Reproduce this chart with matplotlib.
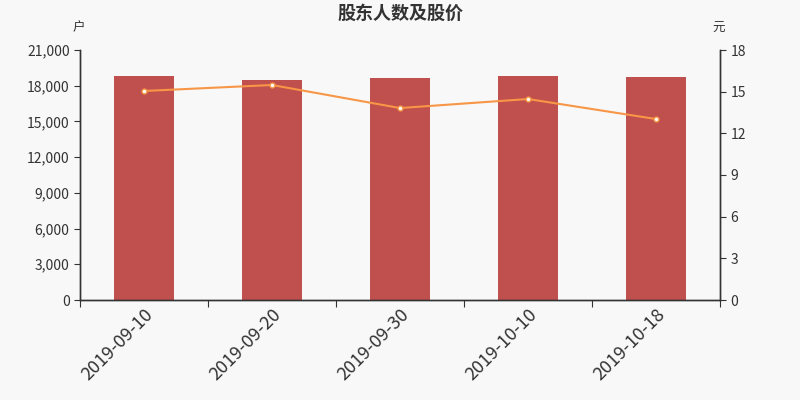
import matplotlib.pyplot as plt
from matplotlib.ticker import FuncFormatter, MultipleLocator

plt.rcParams['font.family'] = ['Noto Sans CJK SC', 'DejaVu Sans']

dates = ['2019-09-10', '2019-09-20', '2019-09-30', '2019-10-10', '2019-10-18']
holders = [18800, 18480, 18650, 18820, 18730]
prices = [15.05, 15.48, 13.82, 14.47, 13.03]

bg = '#f8f8f8'
axis_color = '#333333'

fig = plt.figure(figsize=(8, 4), dpi=100, facecolor=bg)
ax = fig.add_axes([0.1, 0.25, 0.8, 0.625])
ax.set_facecolor(bg)
x = list(range(len(dates)))

ax.bar(x, holders, width=0.47, color='#c0504d', zorder=2)
ax.set_xlim(-0.5, len(dates) - 0.5)
ax.set_ylim(0, 21000)
ax.yaxis.set_major_locator(MultipleLocator(3000))
ax.yaxis.set_major_formatter(FuncFormatter(lambda v, p: f'{int(v):,}'))

# ticks sit on the category boundaries, labels under the bars
ax.set_xticks([i - 0.5 for i in range(len(dates) + 1)])
ax.set_xticklabels([])
ax.set_xticks(x, minor=True)
ax.set_xticklabels(dates, minor=True, rotation=45, ha='right',
                   rotation_mode='anchor', fontsize=13, color=axis_color)
ax.tick_params(axis='x', which='minor', length=0, pad=4)
ax.tick_params(axis='x', which='major', length=5, color=axis_color)
ax.tick_params(axis='y', labelsize=10, colors=axis_color, length=4)

ax2 = ax.twinx()
ax2.plot(x, prices, color='#f79646', linewidth=1.5, marker='o', markersize=3.5,
         markerfacecolor='white', markeredgecolor='#f79646', markeredgewidth=1, zorder=3)
ax2.set_ylim(0, 18)
ax2.yaxis.set_major_locator(MultipleLocator(3))
ax2.tick_params(axis='y', labelsize=10, colors=axis_color, length=4)

for a in (ax, ax2):
    a.spines['top'].set_visible(False)
    for s in ('left', 'right', 'bottom'):
        a.spines[s].set_color(axis_color)
        a.spines[s].set_linewidth(1)

fig.text(0.5, 0.967, '股东人数及股价', ha='center', va='center',
         fontsize=13, fontweight='bold', color=axis_color)
fig.text(0.098, 0.93, '户', ha='center', va='center', fontsize=9, color=axis_color)
fig.text(0.898, 0.93, '元', ha='center', va='center', fontsize=9, color=axis_color)

fig.savefig('out.png', dpi=100, facecolor=bg)
